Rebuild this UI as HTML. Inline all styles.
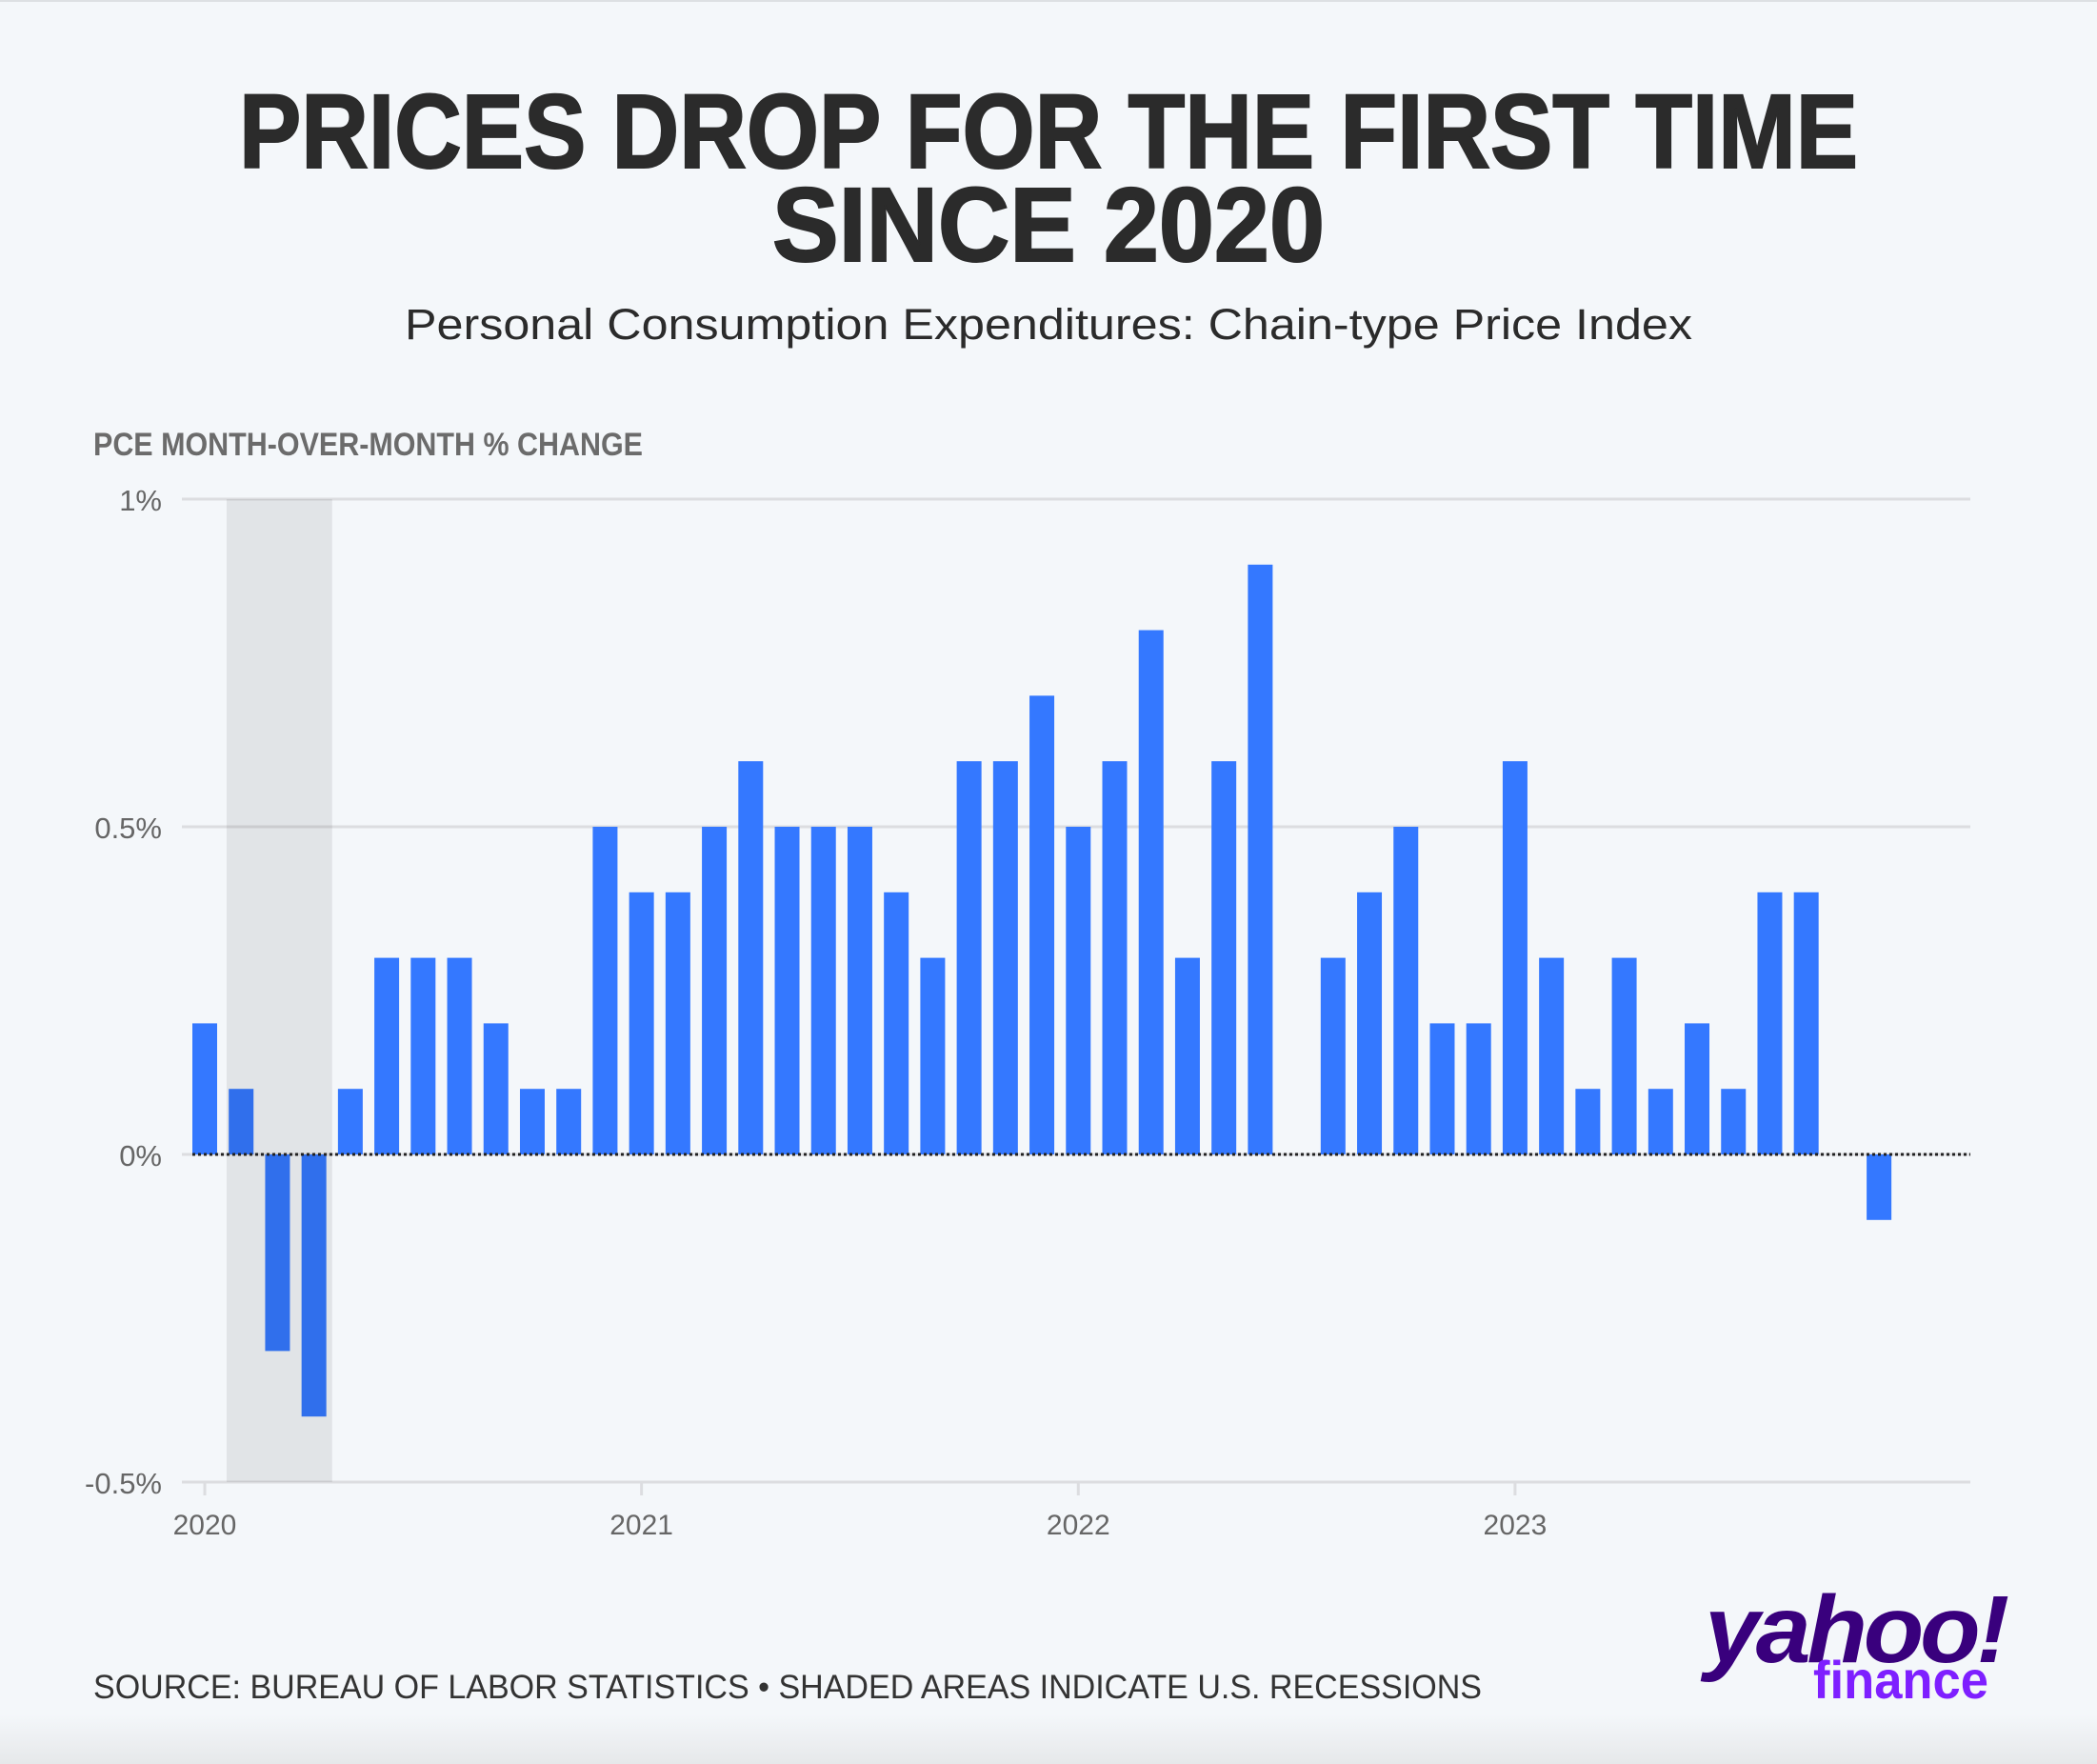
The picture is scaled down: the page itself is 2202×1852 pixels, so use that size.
<!DOCTYPE html>
<html><head><meta charset="utf-8"><style>
html,body{margin:0;padding:0;background:#f4f7fa;}
svg{display:block;}
text{font-family:"Liberation Sans",sans-serif;}
</style></head><body>
<svg id="chart" width="2202" height="1852" viewBox="0 0 2202 1852" xmlns="http://www.w3.org/2000/svg">
<defs><linearGradient id="bot" x1="0" y1="0" x2="0" y2="1"><stop offset="0" stop-color="#f4f7fa"/><stop offset="1" stop-color="#e6e8ea"/></linearGradient></defs>
<rect width="2202" height="1852" fill="#f4f7fa"/>
<rect y="0" width="2202" height="2" fill="#dde0e3"/>
<rect y="1800" width="2202" height="52" fill="url(#bot)"/>
<text x="1101" y="176" text-anchor="middle" font-size="110" font-weight="bold" fill="#2b2b2b" stroke="#2b2b2b" stroke-width="2" textLength="1700" lengthAdjust="spacingAndGlyphs">PRICES DROP FOR THE FIRST TIME</text>
<text x="1101" y="274" text-anchor="middle" font-size="110" font-weight="bold" fill="#2b2b2b" stroke="#2b2b2b" stroke-width="2" textLength="580" lengthAdjust="spacingAndGlyphs">SINCE 2020</text>
<text x="1101" y="356" text-anchor="middle" font-size="45" fill="#2b2b2b" textLength="1352" lengthAdjust="spacingAndGlyphs">Personal Consumption Expenditures: Chain-type Price Index</text>
<text x="98" y="478" font-size="34" font-weight="bold" fill="#6b6b6b" textLength="577" lengthAdjust="spacingAndGlyphs">PCE MONTH-OVER-MONTH % CHANGE</text>
<g id="plot"></g>
<text x="98" y="1783" font-size="35" fill="#333" textLength="1458" lengthAdjust="spacingAndGlyphs">SOURCE: BUREAU OF LABOR STATISTICS • SHADED AREAS INDICATE U.S. RECESSIONS</text>
<g>
<text x="1790" y="1745" font-size="100" font-weight="bold" font-style="italic" fill="#39007d" textLength="316" lengthAdjust="spacingAndGlyphs" letter-spacing="-4">yahoo!</text>
<text x="1904" y="1783" font-size="56" font-weight="bold" fill="#7e1fff" textLength="184" lengthAdjust="spacingAndGlyphs">finance</text>
</g>
</svg>
<script>
const values=[0.2,0.1,-0.3,-0.4,0.1,0.3,0.3,0.3,0.2,0.1,0.1,0.5,
0.4,0.4,0.5,0.6,0.5,0.5,0.5,0.4,0.3,0.6,0.6,0.7,
0.5,0.6,0.8,0.3,0.6,0.9,0,0.3,0.4,0.5,0.2,0.2,
0.6,0.3,0.1,0.3,0.1,0.2,0.1,0.4,0.4,0,-0.1];
const yTicks=[1,0.5,0,-0.5];
const yTickLabels=["1%","0.5%","0%","-0.5%"];
const xYears=[2020,2021,2022,2023];
const recessionStart=0.6, recessionEnd=3.5;
const NS="http://www.w3.org/2000/svg";
const g=document.getElementById('plot');
const y0=524,y1=1556,vMax=1,vMin=-0.5;
function y(v){return y0+(vMax-v)/(vMax-vMin)*(y1-y0);}
const x0=215,step=38.22;
function x(i){return x0+i*step;}
function mk(tag,a){const e=document.createElementNS(NS,tag);for(const k in a)e.setAttribute(k,a[k]);g.appendChild(e);return e;}
yTicks.forEach((t,i)=>{
 const l=mk('line',{x1:191,x2:2069,y1:y(t),y2:y(t),stroke:'#dcdde0','stroke-width':3});
 
 
 const tx=mk('text',{x:170,y:y(t)+12,'text-anchor':'end','font-size':31,fill:'#666'});
 tx.textContent=yTickLabels[i];
 
 
});
xYears.forEach((yr,i)=>{
 const xi=x(i*12);
 mk('line',{x1:xi,x2:xi,y1:y(vMin),y2:y(vMin)+14,stroke:'#dcdde0','stroke-width':3});
 const tx=mk('text',{x:xi,y:1611,'text-anchor':'middle','font-size':30,fill:'#666'});
 tx.textContent=yr;
 
 
});
values.forEach((v,i)=>{
 const top=Math.min(y(v),y(0)),h=Math.abs(y(v)-y(0));
 const r=mk('rect',{x:x(i)-13,y:top,width:26,height:h,fill:'#3478ff'});
 
 
});
const sh=mk('rect',{x:x(recessionStart),y:y0,width:x(recessionEnd)-x(recessionStart),height:y1-y0,fill:'rgba(0,0,0,0.075)'});


const z=mk('line',{x1:x(0)-13,x2:2069,y1:y(0),y2:y(0),stroke:'#222','stroke-width':3,'stroke-dasharray':'3 3'});


</script>
</body></html>
